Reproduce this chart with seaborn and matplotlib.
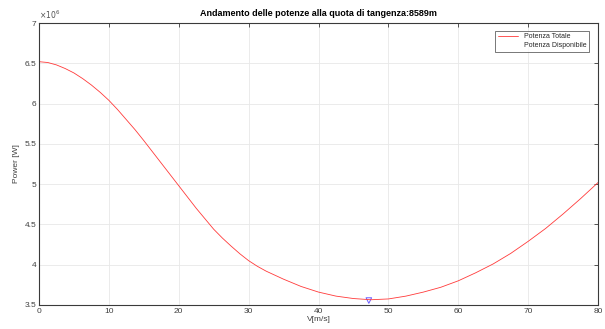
import matplotlib
matplotlib.use("Agg")
import matplotlib.pyplot as plt
from matplotlib.ticker import FuncFormatter
import seaborn as sns
import pandas as pd

# Data
velocity = [0, 1.25, 2.5, 3.75, 5, 6.25, 7.5, 8.75, 10, 11.25, 12.5, 13.75, 15, 17.5, 20,
            22.5, 25, 26.25, 27.5, 28.75, 30, 31.25, 32.5, 35, 37.5,
            40, 42.5, 45, 47.5, 50, 52.5, 55, 57.5, 60, 62.5, 65, 67.5, 70, 72.5, 75, 77.5, 80]
power_total = [6.52, 6.51, 6.48, 6.435, 6.38, 6.31, 6.23, 6.14, 6.04, 5.925, 5.80, 5.675,
               5.54, 5.26, 4.98, 4.70, 4.44, 4.33, 4.23, 4.135, 4.05, 3.98, 3.92, 3.82, 3.73,
               3.66, 3.61, 3.58, 3.565, 3.575, 3.61, 3.66, 3.72, 3.80, 3.90,
               4.01, 4.14, 4.29, 4.45, 4.63, 4.82, 5.02]
power_total = [p * 1e6 for p in power_total]
min_v = [47.2]
min_p = [3.555e6]

title = "Andamento delle potenze alla quota di tangenza:8589m"
legend_labels = ["Potenza Totale", "Potenza Disponibile"]
y_ticks = [3.5e6, 4e6, 4.5e6, 5e6, 5.5e6, 6e6, 6.5e6, 7e6]

sns.set_theme(style="whitegrid")
plt.rcParams["font.family"] = ["Liberation Sans", "DejaVu Sans"]

fig = plt.figure(figsize=(6.05, 3.29), dpi=100)
ax = fig.add_axes([0.0645, 0.073, 0.924, 0.857])

df = pd.DataFrame({"V": velocity, "P": power_total})
sns.lineplot(data=df, x="V", y="P", ax=ax, color="#ff3a3a", linewidth=0.6,
             label=legend_labels[0])
ax.plot([], [], color="white", linewidth=0.8, label=legend_labels[1])
sns.scatterplot(x=min_v, y=min_p, ax=ax, marker="v", s=16, facecolor="none",
                edgecolor="#6a5cff", linewidth=0.7, legend=False)

ax.set_xlim(0, 80)
ax.set_ylim(3.5e6, 7e6)
ax.set_xticks(range(0, 81, 10))
ax.set_yticks(y_ticks)
ax.yaxis.set_major_formatter(FuncFormatter(lambda v, p: f"{v / 1e6:g}"))
ax.text(0.0, 1.008, r"$\times10^6$", transform=ax.transAxes, fontsize=5.5,
        color="#505050", ha="left", va="bottom")

ax.grid(True, color="#e8e8e8", linewidth=0.6)
for s in ax.spines.values():
    s.set_color("#3a3a3a")
    s.set_linewidth(0.8)
    s.set_visible(True)
ax.tick_params(axis="both", labelsize=6, labelcolor="#404040", direction="in",
               length=3, width=0.6, color="#3a3a3a", pad=2, right=True, top=True)

ax.set_xlabel("V[m/s]", fontsize=6, color="#404040", labelpad=1)
ax.set_ylabel("Power [W]", fontsize=6, color="#404040", labelpad=3)
ax.set_title(title, fontsize=6.5, fontweight="bold", color="black", pad=5)

leg = ax.legend(loc="upper right", fontsize=5, frameon=True, fancybox=False,
                handlelength=3.0, borderpad=0.35, labelspacing=0.3,
                bbox_to_anchor=(0.99, 0.985))
leg.get_frame().set_edgecolor("#3a3a3a")
leg.get_frame().set_linewidth(0.6)

fig.savefig("out.png", dpi=100)
